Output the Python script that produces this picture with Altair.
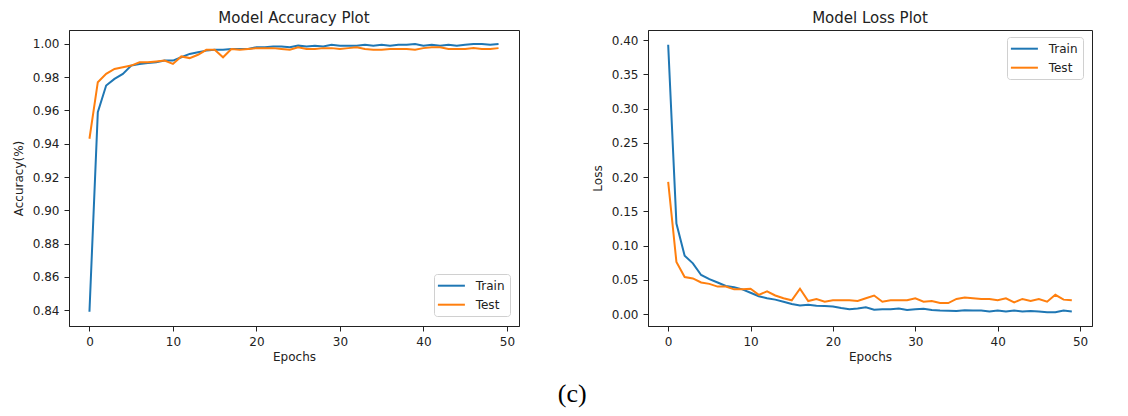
import altair as alt
import pandas as pd

epochs = list(range(50))

acc_train = [0.839, 0.959, 0.975, 0.979, 0.982, 0.987, 0.988, 0.9885, 0.989, 0.990,
             0.990, 0.992, 0.994, 0.995, 0.996, 0.9965, 0.9965, 0.997, 0.997, 0.997,
             0.998, 0.998, 0.9985, 0.9985, 0.998, 0.999, 0.9985, 0.999, 0.9985, 0.9995,
             0.999, 0.999, 0.999, 0.9995, 0.999, 0.9995, 0.999, 0.9995, 0.9995, 1.000,
             0.999, 0.9995, 0.999, 0.9995, 0.999, 0.9995, 1.000, 1.000, 0.9995, 1.000]

acc_test = [0.943, 0.977, 0.982, 0.985, 0.986, 0.987, 0.989, 0.989, 0.9895, 0.990,
            0.988, 0.9925, 0.9915, 0.9935, 0.9965, 0.9965, 0.992, 0.997, 0.9965, 0.997,
            0.9975, 0.9975, 0.9975, 0.997, 0.9965, 0.998, 0.997, 0.997, 0.9975, 0.9975,
            0.997, 0.9975, 0.998, 0.997, 0.9965, 0.9965, 0.997, 0.997, 0.997, 0.9965,
            0.9975, 0.998, 0.998, 0.997, 0.997, 0.997, 0.9975, 0.997, 0.997, 0.9975]

loss_train = [0.393, 0.132, 0.085, 0.074, 0.057, 0.051, 0.046, 0.041, 0.039, 0.036,
              0.031, 0.026, 0.023, 0.021, 0.018, 0.0146, 0.0126, 0.0136, 0.012, 0.0117,
              0.011, 0.0087, 0.0068, 0.008, 0.0097, 0.0063, 0.007, 0.0068, 0.008, 0.006,
              0.0068, 0.0075, 0.006, 0.005, 0.0047, 0.0045, 0.0055, 0.005, 0.005, 0.0035,
              0.005, 0.0035, 0.005, 0.0035, 0.0045, 0.0035, 0.0025, 0.0025, 0.005, 0.0035]

loss_test = [0.193, 0.076, 0.054, 0.052, 0.046, 0.044, 0.040, 0.040, 0.036, 0.036,
             0.037, 0.028, 0.033, 0.027, 0.023, 0.020, 0.037, 0.019, 0.022, 0.018,
             0.020, 0.020, 0.020, 0.019, 0.023, 0.027, 0.018, 0.020, 0.020, 0.020,
             0.023, 0.018, 0.019, 0.016, 0.016, 0.022, 0.024, 0.023, 0.022, 0.022,
             0.020, 0.023, 0.017, 0.022, 0.019, 0.022, 0.018, 0.028, 0.021, 0.020]

series = ["Train", "Test"]
colors = ["#1f77b4", "#ff7f0e"]
x_ticks = [0, 10, 20, 30, 40, 50]
acc_ticks = [0.84, 0.86, 0.88, 0.90, 0.92, 0.94, 0.96, 0.98, 1.00]
loss_ticks = [0.00, 0.05, 0.10, 0.15, 0.20, 0.25, 0.30, 0.35, 0.40]


def long_df(train, test):
    rows = []
    for e, v in zip(epochs, train):
        rows.append({"epoch": e, "value": v, "series": "Train"})
    for e, v in zip(epochs, test):
        rows.append({"epoch": e, "value": v, "series": "Test"})
    return pd.DataFrame(rows)


acc_df = long_df(acc_train, acc_test)
loss_df = long_df(loss_train, loss_test)

x_enc = alt.X("epoch:Q", title="Epochs",
              scale=alt.Scale(domain=[-2.45, 51.45], nice=False, zero=False),
              axis=alt.Axis(values=x_ticks, format="d"))


def legend(x, y):
    return alt.Legend(title=None, orient="none", legendX=x, legendY=y,
                      symbolType="M-1.3,0L3.2,0", symbolSize=144, symbolStrokeWidth=2,
                      labelFont="DejaVu Sans", labelFontSize=12, labelColor="#222",
                      strokeColor="#d0d0d0", fillColor="white", padding=4.7,
                      cornerRadius=3, rowPadding=6, labelOffset=23)


color_acc = alt.Color("series:N", scale=alt.Scale(domain=series, range=colors),
                      legend=legend(365, 244))
color_loss = alt.Color("series:N", scale=alt.Scale(domain=series, range=colors),
                       legend=legend(359, 7))

acc = alt.Chart(acc_df, title="Model Accuracy Plot").mark_line(strokeWidth=2).encode(
    x=x_enc,
    y=alt.Y("value:Q", title="Accuracy(%)",
            scale=alt.Scale(domain=[0.8304, 1.0084], nice=False, zero=False),
            axis=alt.Axis(values=acc_ticks, format=".2f")),
    color=color_acc,
    order=alt.Order("epoch:Q"),
).properties(width=450, height=296)

loss = alt.Chart(loss_df, title="Model Loss Plot").mark_line(strokeWidth=2).encode(
    x=x_enc,
    y=alt.Y("value:Q", title="Loss",
            scale=alt.Scale(domain=[-0.0175, 0.4146], nice=False, zero=False),
            axis=alt.Axis(values=loss_ticks, format=".2f")),
    color=color_loss,
    order=alt.Order("epoch:Q"),
).properties(width=444, height=296)

chart = alt.hconcat(acc, loss, spacing=70).resolve_scale(color="independent").properties(
    title=alt.TitleParams("(c)", orient="bottom", anchor="middle",
                          font="Liberation Serif", fontSize=26, fontWeight="normal",
                          color="black", offset=18, dx=20),
    padding={"left": 3, "top": 2, "right": 5, "bottom": 5},
).configure_view(stroke="#222222", strokeWidth=1).configure_axis(
    grid=False, labelFont="DejaVu Sans", labelFontSize=12, labelColor="#222",
    titleFont="DejaVu Sans", titleFontSize=12, titleFontWeight="normal", titleColor="#222",
    tickColor="#222222", tickSize=5, domainColor="#222222", labelPadding=5,
).configure_axisX(titlePadding=4).configure_axisY(titlePadding=7).configure_title(
    font="DejaVu Sans", fontSize=15, fontWeight="normal", color="#222", offset=4)

chart.save("out.html", embed_options={"renderer": "svg", "actions": False})
